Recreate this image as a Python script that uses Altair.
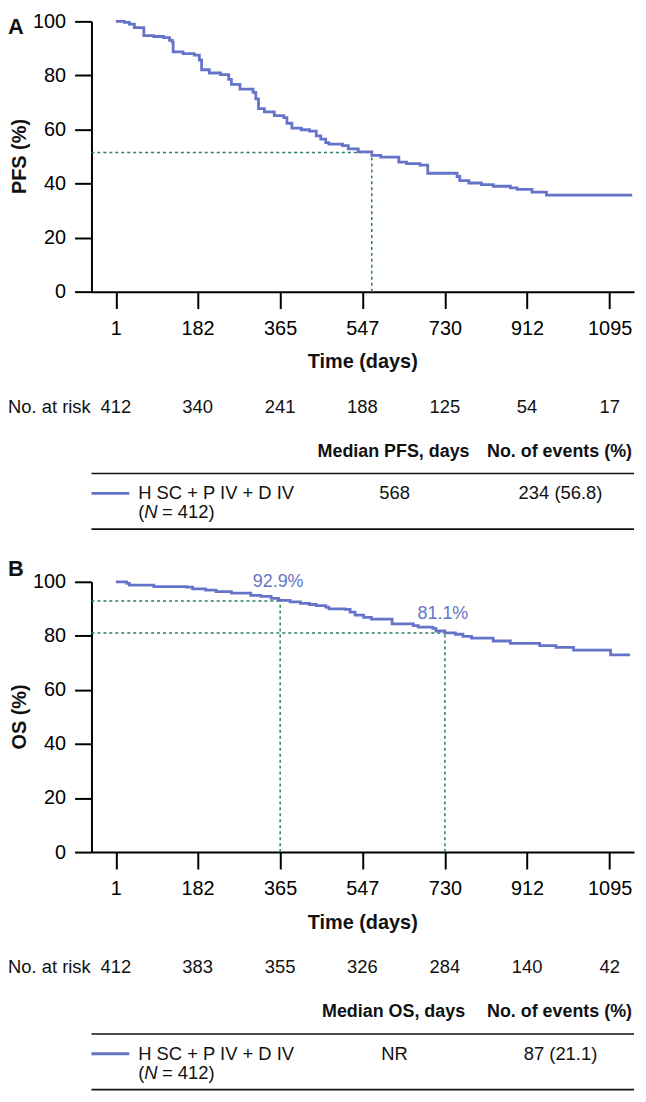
import altair as alt
import pandas as pd

FONT = "Liberation Sans"
BLUE = "#6574C9"
GREEN = "#2A7F62"
INK = "#111111"

W = 546
H = 272
LEFT = 84
GAP = 292
X_DOMAIN = [-53, 1149]

tick_days = [1, 182, 365, 547, 730, 912, 1095]
pct_ticks = [0, 20, 40, 60, 80, 100]

# Panel A: progression-free survival
pfs_days = [1, 20, 31, 42, 63, 85, 107, 120, 126, 128, 150, 175, 186, 191, 208, 233,
            251, 257, 276, 305, 311, 317, 330, 352, 373, 380, 391, 412, 430, 445, 455,
            466, 473, 503, 516, 538, 568, 588, 628, 645, 675, 692, 757, 763, 783, 811,
            837, 875, 890, 923, 955, 1145]
pfs_pct = [100, 99.6, 99.0, 97.7, 94.7, 94.4, 94.0, 93.0, 92.3, 88.7, 88.1, 87.5, 85.7,
           82.1, 80.9, 80.3, 78.5, 76.7, 74.9, 73.7, 71.3, 67.7, 66.5, 65.1, 64.4, 62.3,
           60.5, 59.9, 59.4, 57.6, 56.4, 55.1, 54.6, 54.0, 52.8, 51.7, 50.4, 49.8, 47.9,
           47.4, 46.8, 43.8, 42.6, 41.1, 40.2, 39.6, 39.0, 38.4, 37.8, 36.8, 35.7, 35.7]
pfs_at_risk = [412, 340, 241, 188, 125, 54, 17]
pfs_guide_days = [568]
pfs_guide_pct = [51.5]
pfs_table = ["Median PFS, days", "568", "234 (56.8)"]

# Panel B: overall survival
os_days = [1, 25, 31, 85, 158, 171, 200, 223, 257, 300, 322, 345, 362, 387, 410, 430,
           445, 466, 473, 509, 520, 531, 550, 567, 613, 660, 671, 703, 710, 730, 753,
           770, 789, 837, 875, 940, 976, 1015, 1097, 1140]
os_pct = [100, 99.4, 98.8, 98.2, 98.0, 97.4, 96.9, 96.4, 95.8, 95.0, 94.6, 93.9, 93.1,
          92.6, 92.0, 91.6, 91.2, 90.6, 90.0, 89.8, 88.8, 87.7, 86.8, 86.2, 84.4, 83.8,
          83.2, 82.8, 81.8, 81.1, 80.6, 79.8, 79.2, 78.1, 77.2, 76.4, 75.7, 74.7, 73.0, 73.0]
os_at_risk = [412, 383, 355, 326, 284, 140, 42]
os_guide_days = [365, 730]
os_guide_pct = [92.9, 81.1]
os_guide_labels = ["92.9%", "81.1%"]
os_table = ["Median OS, days", "NR", "87 (21.1)"]

events_header = "No. of events (%)"
treatment = "H SC + P IV + D IV"
n_value = "= 412)"

x_scale = alt.Scale(domain=X_DOMAIN, nice=False, zero=False)
y_scale = alt.Scale(domain=[0, 100], nice=False, zero=True)
x_axis = alt.Axis(values=tick_days, format="d", title=None, labelFlush=False,
                  labelBaseline="middle", labelPadding=20, grid=False)
y_axis = alt.Axis(values=pct_ticks, format="d", title=None, labelFlush=False,
                  labelPadding=9, grid=False)


def X(f):
    return alt.X(f, type="quantitative", scale=x_scale, axis=x_axis)


def Y(f):
    return alt.Y(f, type="quantitative", scale=y_scale, axis=y_axis)


ONE = pd.DataFrame({"k": [0]})


def text_at(txt, x, y, size=18.5, weight="normal", style="normal", align="left",
            angle=None, color=INK):
    kw = dict(text=txt, font=FONT, fontSize=size, fontWeight=weight, fontStyle=style,
              align=align, baseline="middle", color=color)
    if angle is not None:
        kw["angle"] = angle
    return alt.Chart(ONE).mark_text(**kw).encode(x=alt.value(x), y=alt.value(y))


def hline(y, x1, x2, color=INK, width=1.6):
    return alt.Chart(ONE).mark_rule(color=color, strokeWidth=width).encode(
        x=alt.value(x1), x2=alt.value(x2), y=alt.value(y))


def panel(letter, letter_y, ytitle, days, pct, at_risk, gdays, gpct, glabels, table):
    curve = alt.Chart(pd.DataFrame({"day": days, "pct": pct})).mark_line(
        interpolate="step-after", color=BLUE, strokeWidth=2.8).encode(x=X("day"), y=Y("pct"))
    gdf = pd.DataFrame({"day": gdays, "pct": gpct,
                        "start": [X_DOMAIN[0]] * len(gdays), "base": [0] * len(gdays)})
    hguide = alt.Chart(gdf).mark_rule(color=GREEN, strokeWidth=1.5, strokeDash=[3, 3]).encode(
        x=X("start"), x2="day:Q", y=Y("pct"))
    vguide = alt.Chart(gdf).mark_rule(color=GREEN, strokeWidth=1.5, strokeDash=[3, 3]).encode(
        x=X("day"), y=Y("base"), y2="pct:Q")
    risk = alt.Chart(pd.DataFrame({"day": tick_days, "n": at_risk})).mark_text(
        font=FONT, fontSize=18.5, color=INK, baseline="middle").encode(
        x=X("day"), y=alt.value(H + 116), text="n:Q")
    layers = [hguide, vguide, curve, risk]
    if glabels:
        ann = alt.Chart(pd.DataFrame({"day": gdays, "pct": gpct, "lab": glabels})).mark_text(
            font=FONT, fontSize=18, color=BLUE, dy=-19, dx=-2, baseline="middle").encode(
            x=X("day"), y=Y("pct"), text="lab:N")
        layers.append(ann)
    layers += [
        text_at(letter, -LEFT, letter_y, size=22, weight="bold"),
        text_at(ytitle, -72, H / 2, size=20, weight="bold", align="center", angle=270),
        text_at("Time (days)", W / 2, H + 71, size=20, weight="bold", align="center"),
        text_at("No. at risk", -LEFT, H + 116),
        text_at(table[0], 304, H + 161, size=18, weight="bold", align="center"),
        text_at(events_header, 471, H + 161, size=18, weight="bold", align="center"),
        hline(H + 183, 0, W),
        hline(H + 203, 0, 38, color=BLUE, width=3),
        text_at(treatment, 47, H + 203),
        text_at("(", 47, H + 222),
        text_at("N", 53, H + 222, style="italic"),
        text_at(n_value, 71, H + 222),
        text_at(table[1], 305, H + 203, align="center"),
        text_at(table[2], 472, H + 203, align="center"),
        hline(H + 239, 0, W),
    ]
    return alt.layer(*layers).properties(width=W, height=H)


panel_a = panel("A", 6, "PFS (%)", pfs_days, pfs_pct, pfs_at_risk,
                pfs_guide_days, pfs_guide_pct, None, pfs_table)
panel_b = panel("B", -13, "OS (%)", os_days, os_pct, os_at_risk,
                os_guide_days, os_guide_pct, os_guide_labels, os_table)

chart = alt.concat(
    panel_a, panel_b, columns=1, spacing=GAP, bounds="flush", align="none",
    padding={"left": 0, "top": 0, "right": 0, "bottom": 0},
).configure_view(
    stroke=None
).configure_axis(
    domainColor="black", domainWidth=2, tickColor="black", tickWidth=2, tickSize=17,
    labelFont=FONT, labelFontSize=20, labelColor="black", grid=False
)

chart.save("out.html", embed_options={"renderer": "svg", "actions": False})
